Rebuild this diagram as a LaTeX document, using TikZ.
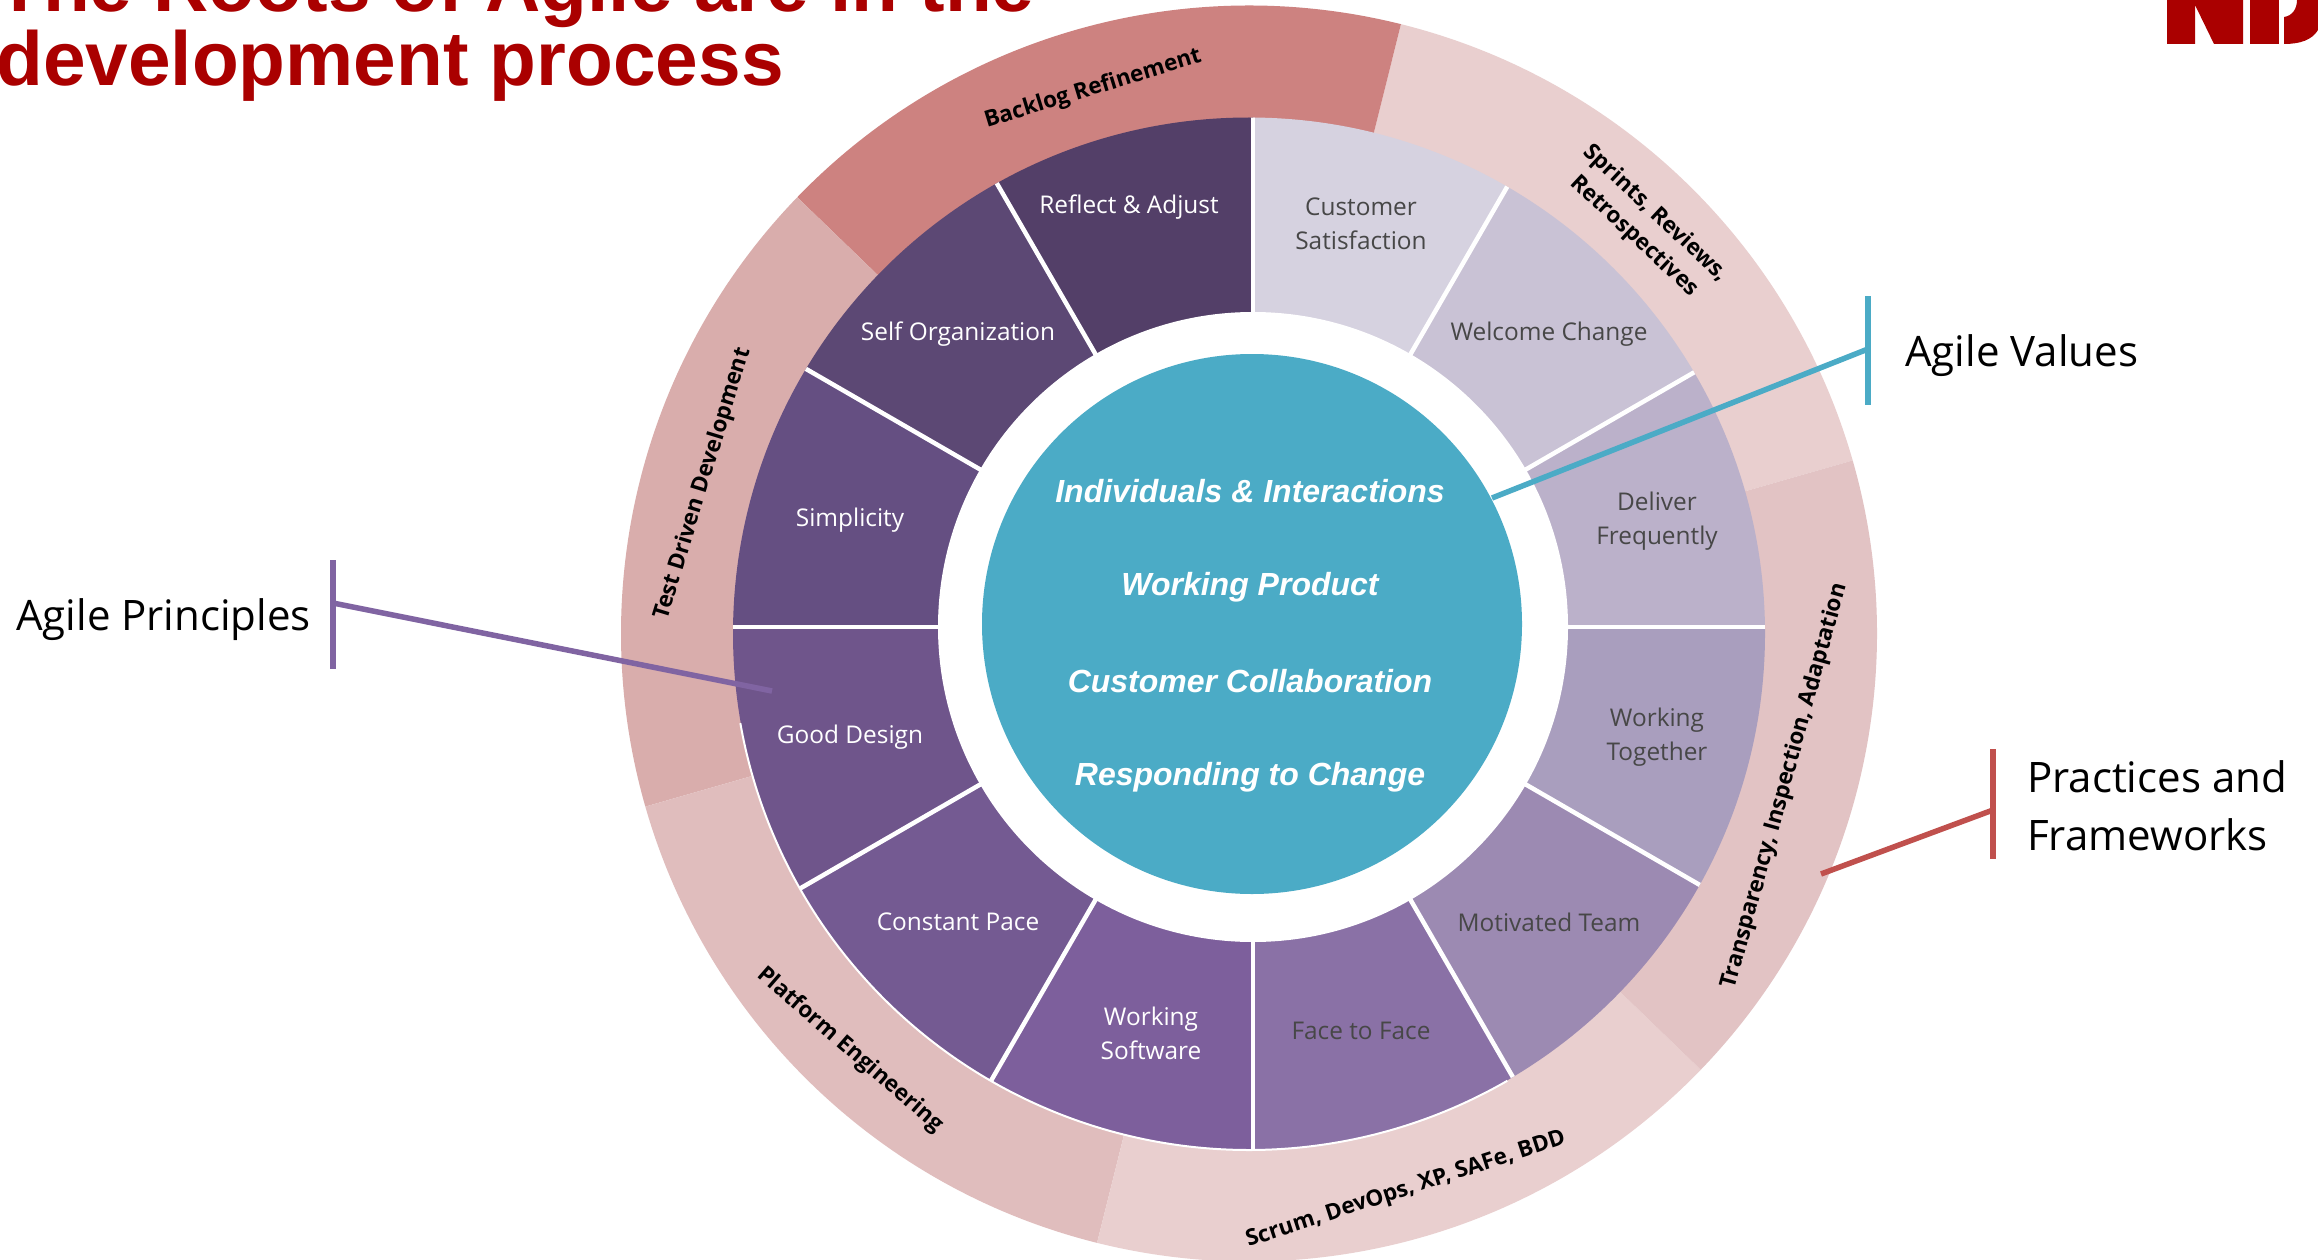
\documentclass[tikz,border=0pt]{standalone}
\usepackage{fontspec}
\setmainfont{Open Sans}
\newfontfamily\arialfont{Liberation Sans}
\definecolor{titlered}{HTML}{AA0000}
\definecolor{valueblue}{HTML}{4BABC6}
\definecolor{princ}{HTML}{8064A2}
\definecolor{pract}{HTML}{C0504D}
\tikzset{
  wedge label/.style={align=center,inner sep=0pt,font=\fontsize{24.4}{34}\selectfont},
  light label/.style={wedge label,text=white},
  dark label/.style={wedge label,text=black!72},
  ring label/.style={align=center,inner sep=0pt,text=black,font=\fontsize{22.5}{31}\selectfont\bfseries},
  value label/.style={inner sep=0pt,text=white,font=\arialfont\fontsize{32}{38}\selectfont\bfseries\itshape},
  callout label/.style={align=left,inner sep=0pt,text=black,font=\fontsize{42}{58}\selectfont},
  title text/.style={anchor=base west,inner sep=0pt,text=titlered,font=\arialfont\fontsize{76.6}{85}\selectfont\bfseries},
  callout/.style={line width=5.5pt}
}
\begin{document}
\begin{tikzpicture}[x=1pt,y=-1pt]
\useasboundingbox (0,0) rectangle (2318,1260);
\clip (0,0) rectangle (2318,1260);
\fill[white] (0,0) rectangle (2318,1260);

% outer ring, centred on the wheel's rim
\begin{scope}[shift={(1249,633.5)},y=1pt]
  \foreach \a/\b/\c in {16/76/E9CFCF,76/136/CD8280,136/196/D9ADAC,196/256/E0BDBD,256/316/E9CFCF,316/376/E2C3C4}{
    \definecolor{seg}{HTML}{\c}
    \fill[seg] (\a:628) arc[start angle=\a,end angle=\b,radius=628pt]
      -- (\b:505) arc[start angle=\b,end angle=\a,radius=505pt] -- cycle;
  }
\end{scope}

% twelve wedges: spokes meet at the hole's centre, the rim is centred a little lower
\begin{scope}
  \clip (1249,633.5) circle[radius=516pt];
  \begin{scope}[shift={(1253,627)},y=1pt]
    \foreach \a/\c in {60/D6D2E0,30/C9C2D5,0/BBB1CA,-30/A99EBE,-60/9C8AB2,-90/8A71A6,-120/7D5F9C,-150/745A92,-180/6F558B,-210/654F82,-240/5C4874,-270/533F68}{
      \pgfmathsetmacro{\b}{\a+30}
      \definecolor{seg}{HTML}{\c}
      \fill[seg] (0,0) -- (\a:640) arc[start angle=\a,end angle=\b,radius=640pt] -- cycle;
    }
    \foreach \a in {0,30,...,330}{
      \draw[white,line width=4.5pt] (0,0) -- (\a:640);
    }
  \end{scope}
\end{scope}
\begin{scope}[shift={(1249,633.5)},y=1pt]
  \draw[white,line width=2pt] (190:516.5) arc[start angle=190,end angle=300,radius=516.5pt];
\end{scope}
\fill[white] (1253,627) circle[radius=315pt];
\fill[valueblue] (1252,624) circle[radius=270pt];

% centre values
\node[value label] (v1) at (1250,491) {Individuals \& Interactions};
\node[value label] (v2) at (1250,587) {Working Product};
\node[value label] (v3) at (1250,681) {Customer Collaboration};
\node[value label] (v4) at (1250,777) {Responding to Change};

% wedge labels
\node[dark label] (p1) at (1361,224) {Customer\\Satisfaction};
\node[dark label] (p2) at (1549,334) {Welcome Change};
\node[dark label] (p3) at (1657,521) {Deliver\\Frequently};
\node[dark label] (p4) at (1657,737) {Working\\Together};
\node[dark label] (p5) at (1549,922) {Motivated Team};
\node[dark label] (p6) at (1361,1031) {Face to Face};
\node[light label] (p7) at (1151,1033) {Working\\Software};
\node[light label] (p8) at (958,922) {Constant Pace};
\node[light label] (p9) at (850,737) {Good Design};
\node[light label] (p10) at (850,520) {Simplicity};
\node[light label] (p11) at (958,334) {Self Organization};
\node[light label] (p12) at (1129,207) {Reflect \& Adjust};

% ring labels
\node[ring label,rotate=17] (r1) at (1093,89) {Backlog Refinement};
\node[ring label,rotate=-43] (r2) at (1645,225) {Sprints, Reviews,\\Retrospectives};
\node[ring label,rotate=74.5] (r3) at (1785,786) {Transparency, Inspection, Adaptation};
\node[ring label,rotate=18] (r4) at (1406,1190) {Scrum, DevOps, XP, SAFe, BDD};
\node[ring label,rotate=-41] (r5) at (850,1050) {Platform Engineering};
\node[ring label,rotate=73] (r6) at (703,484) {Test Driven Development};

% callouts
\coordinate (vtop) at (1868,296);
\coordinate (vbot) at (1868,405);
\coordinate (vmid) at (1868,349);
\coordinate (vend) at (1492,498);
\draw[callout,valueblue] (vtop) -- (vbot);
\draw[callout,valueblue] (vmid) -- (vend);
\node[callout label,anchor=west] (cv) at (1905,356) {Agile Values};

\coordinate (ptop) at (333,560);
\coordinate (pbot) at (333,669);
\coordinate (pmid) at (333,603);
\coordinate (pend) at (772,691);
\draw[callout,princ] (ptop) -- (pbot);
\draw[callout,princ] (pmid) -- (pend);
\node[callout label,anchor=west] (cp) at (16,620) {Agile Principles};

\coordinate (ftop) at (1993,749);
\coordinate (fbot) at (1993,859);
\coordinate (fmid) at (1993,810);
\coordinate (fend) at (1821,874);
\draw[callout,pract] (ftop) -- (fbot);
\draw[callout,pract] (fmid) -- (fend);
\node[callout label,anchor=west] (cf) at (2027,806) {Practices and\\Frameworks};

% title
\node[title text] (t1) at (-4,12) {The Roots of Agile are in the};
\node[title text] (t2) at (-4,86) {development process};

% clipped logo
\fill[titlered] (2167,0) -- (2167,44) -- (2195,44) -- (2195,5) -- (2214,44) -- (2243,44) -- (2243,0) -- cycle;
\fill[titlered] (2250,0) rectangle (2279,44);
\fill[titlered] (2284,44) .. controls (2300,44) and (2312,40) .. (2318,30) -- (2318,0) -- (2297,0)
  .. controls (2297,9) and (2292,16) .. (2284,17) -- cycle;
\end{tikzpicture}
\end{document}
